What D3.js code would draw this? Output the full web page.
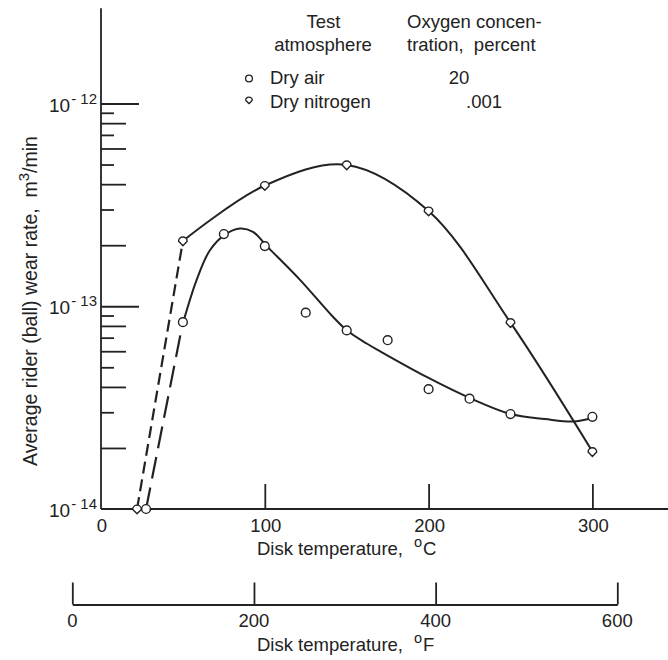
<!DOCTYPE html>
<html><head><meta charset="utf-8">
<script src="https://cdn.jsdelivr.net/npm/d3@7"></script>
<style>
body{margin:0;background:#fff}
text{font-family:"Liberation Sans",Arial,sans-serif;fill:#222}
</style></head>
<body><svg id="c" width="668" height="660"></svg>
<script>
// ---- data ----
const airTemp = [27.5, 50, 75, 100, 125, 150, 175, 200, 225, 250, 300];
const airWear = [1e-14, 8.35e-14, 2.27e-13, 1.98e-13, 9.3e-14, 7.6e-14, 6.8e-14, 3.9e-14, 3.5e-14, 2.94e-14, 2.85e-14];
const n2Temp = [22, 50, 100, 150, 200, 250, 300];
const n2Wear = [1e-14, 2.1e-13, 3.94e-13, 4.98e-13, 2.95e-13, 8.3e-14, 1.92e-14];
// faired curve through dry-air data
const airCurveTemp = [50.2, 58.4, 66.5, 76.1, 84.9, 92.8, 101.2, 121.5, 141.6, 150.4, 162.2, 170.3, 198.8, 225.7, 250.1, 271, 288.2, 299.6];
const airCurveWear = [8.35e-14, 1.35e-13, 1.89e-13, 2.27e-13, 2.42e-13, 2.33e-13, 1.98e-13, 1.35e-13, 8.87e-14, 7.57e-14, 6.55e-14, 6.0e-14, 4.48e-14, 3.51e-14, 2.94e-14, 2.78e-14, 2.70e-14, 2.81e-14];
const cTicks = [0, 100, 200, 300];
const fTicks = [0, 200, 400, 600];
const yMajor = [1e-14, 1e-13, 1e-12];
const yMajorExp = ["-14", "-13", "-12"];
const yMinorLong = [2e-14, 4e-14, 6e-14, 8e-14, 2e-13, 4e-13, 6e-13, 8e-13];
const yMinorShort = [3e-14, 5e-14, 7e-14, 9e-14, 3e-13, 5e-13, 7e-13, 9e-13];
const yAxisTop = 2.95e-12;

const ink = "#222";
const fs = 18.5;
const svg = d3.select("#c");
svg.append("rect").attr("width",668).attr("height",660).attr("fill","#fff");

const x = d3.scaleLinear().domain([0,300]).range([101,592.4]);
const xF = d3.scaleLinear().domain([0,600]).range([72.3,617.3]);
const y = d3.scaleLog().domain([1e-14,1e-12]).range([509,103.5]);

// ---- y axis ----
svg.append("line").attr("x1",x(0)).attr("x2",x(0)).attr("y1",y(1e-14)).attr("y2",y(yAxisTop))
  .attr("stroke",ink).attr("stroke-width",1.8);
function yTicks(vals,len){
  svg.append("g").attr("transform",`translate(${x(0)},0)`).attr("color",ink)
    .call(d3.axisRight(y).tickValues(vals).tickSize(len).tickFormat(""))
    .call(g=>g.select(".domain").remove())
    .call(g=>g.selectAll("line").attr("stroke-width",1.8));
}
yTicks(yMajor.slice(1),38);
yTicks(yMinorLong,25);
yTicks(yMinorShort,13);
const yl = svg.append("g").selectAll("text").data(yMajor).join("text")
  .attr("x",97).attr("y",d=>y(d)+8).attr("text-anchor","end").attr("font-size",19);
yl.append("tspan").text("10");
yl.append("tspan").attr("font-size",15).attr("dy",-8).attr("dx",1).text((d,i)=>"- "+yMajorExp[i].slice(1));

svg.append("text").attr("transform","translate(37,301) rotate(-90)").attr("text-anchor","middle")
  .attr("font-size",19.5)
  .call(t=>{t.append("tspan").text("Average rider (ball) wear rate,\u00A0 m");
            t.append("tspan").attr("font-size",15).attr("dy",-8).text("3");
            t.append("tspan").attr("dy",8).text("/min");});

// ---- Celsius axis ----
svg.append("line").attr("x1",x(0)).attr("x2",668).attr("y1",y(1e-14)).attr("y2",y(1e-14))
  .attr("stroke",ink).attr("stroke-width",1.8);
svg.append("g").attr("transform",`translate(0,${y(1e-14)})`).attr("color",ink)
  .call(d3.axisTop(x).tickValues(cTicks.slice(1)).tickSize(25).tickFormat(""))
  .call(g=>g.select(".domain").remove())
  .call(g=>g.selectAll("line").attr("stroke-width",1.8));
svg.append("g").selectAll("text").data(cTicks).join("text")
  .attr("x",d=>x(d)+1).attr("y",531.5).attr("text-anchor","middle").attr("font-size",fs).text(d=>d);
svg.append("text").attr("x",257).attr("y",555).attr("font-size",fs)
  .call(t=>{t.append("tspan").text("Disk temperature,");
            t.append("tspan").attr("dx",11).attr("dy",-8).attr("font-size",14.5).text("o");
            t.append("tspan").attr("dy",8).attr("dx",1).text("C");});

// ---- Fahrenheit axis ----
svg.append("g").attr("transform","translate(0,604.5)").attr("color",ink)
  .call(d3.axisTop(xF).tickValues(fTicks).tickSize(22).tickSizeOuter(0).tickFormat(""))
  .call(g=>g.selectAll("line,path").attr("stroke-width",1.8));
svg.append("g").selectAll("text").data(fTicks).join("text")
  .attr("x",d=>xF(d)).attr("y",627).attr("text-anchor","middle").attr("font-size",fs).text(d=>d);
svg.append("text").attr("x",257).attr("y",651).attr("font-size",fs)
  .call(t=>{t.append("tspan").text("Disk temperature,");
            t.append("tspan").attr("dx",11).attr("dy",-8).attr("font-size",14.5).text("o");
            t.append("tspan").attr("dy",8).attr("dx",1).text("F");});

// ---- curves ----
const line = d3.line().x(d=>x(d[0])).y(d=>y(d[1])).curve(d3.curveCatmullRom.alpha(0.5));
svg.append("path").datum(d3.zip(n2Temp.slice(1),n2Wear.slice(1)))
  .attr("d",line).attr("fill","none").attr("stroke",ink).attr("stroke-width",2);
svg.append("path").datum(d3.zip(airCurveTemp,airCurveWear))
  .attr("d",line).attr("fill","none").attr("stroke",ink).attr("stroke-width",2);
const straight = d3.line().x(d=>x(d[0])).y(d=>y(d[1]));
svg.append("path").datum(d3.zip(n2Temp.slice(0,2),n2Wear.slice(0,2)))
  .attr("d",straight).attr("fill","none").attr("stroke",ink).attr("stroke-width",2.2)
  .attr("stroke-dasharray","12,6");
svg.append("path").datum(d3.zip(airTemp.slice(0,2),airWear.slice(0,2)))
  .attr("d",straight).attr("fill","none").attr("stroke",ink).attr("stroke-width",2.2)
  .attr("stroke-dasharray","22,9");

// ---- markers ----
const shield = s => `M0,${4.6*s} L${-4.1*s},${0.4*s} A${4.1*s},${4.1*s} 0 1,1 ${4.1*s},${0.4*s} Z`;
svg.append("g").selectAll("circle").data(d3.zip(airTemp,airWear)).join("circle")
  .attr("cx",d=>x(d[0])).attr("cy",d=>y(d[1])).attr("r",4.4)
  .attr("fill","#fff").attr("stroke",ink).attr("stroke-width",1.4);
svg.append("g").selectAll("path").data(d3.zip(n2Temp,n2Wear)).join("path")
  .attr("transform",d=>`translate(${x(d[0])},${y(d[1])})`).attr("d",shield(1.05))
  .attr("fill","#fff").attr("stroke",ink).attr("stroke-width",1.4).attr("stroke-linejoin","round");

// ---- legend ----
const lg = svg.append("g").attr("font-size",fs);
lg.append("text").attr("x",323.5).attr("y",28).attr("text-anchor","middle").text("Test");
lg.append("text").attr("x",323).attr("y",51).attr("text-anchor","middle").text("atmosphere");
lg.append("text").attr("x",407).attr("y",28).text("Oxygen concen-");
lg.append("text").attr("x",407).attr("y",51).text("tration,\u00A0 percent");
lg.append("circle").attr("cx",249).attr("cy",78.5).attr("r",3.4).attr("fill","#fff").attr("stroke",ink).attr("stroke-width",1.3);
lg.append("text").attr("x",270).attr("y",83.5).text("Dry air");
lg.append("text").attr("x",459).attr("y",83.5).attr("text-anchor","middle").text("20");
lg.append("path").attr("transform","translate(249,100)").attr("d",shield(0.8))
  .attr("fill","#fff").attr("stroke",ink).attr("stroke-width",1.3).attr("stroke-linejoin","round");
lg.append("text").attr("x",270).attr("y",108).text("Dry nitrogen");
lg.append("text").attr("x",466).attr("y",108).text(".001");
</script></body></html>
